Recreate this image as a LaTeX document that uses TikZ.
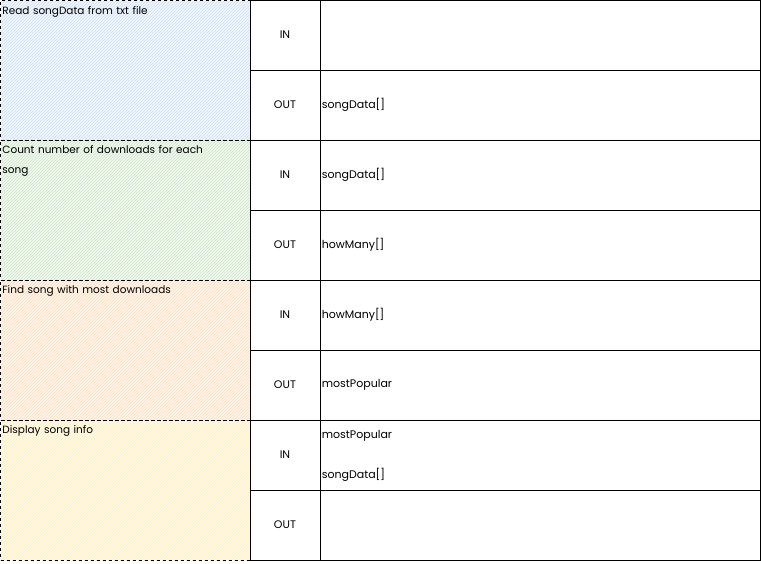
\documentclass[tikz,border=0pt]{standalone}
\usepackage{fontspec}
\setmainfont{Poppins}
\usetikzlibrary{patterns}
\definecolor{hblue}{HTML}{B9D3F5}
\definecolor{hgreen}{HTML}{B7DDB5}
\definecolor{horange}{HTML}{FFCFA0}
\definecolor{hyellow}{HTML}{FFE699}
\tikzset{
  task/.style={draw,dashed,line width=0.5pt,minimum width=250pt,minimum height=140pt,inner sep=0pt},
  io/.style={draw,line width=0.8pt,minimum width=70pt,minimum height=70pt,font=\fontsize{11}{13}\selectfont},
  val/.style={draw,line width=0.8pt,minimum width=440pt,minimum height=70pt},
  lbl/.style={font=\fontsize{11}{13}\selectfont,anchor=west,inner sep=2pt},
  ttl/.style={font=\fontsize{10.5}{20}\selectfont,anchor=north west,align=left,inner sep=2pt,yshift=-4pt,text width=220pt}
}
\begin{document}
\begin{tikzpicture}[x=1pt,y=-1pt]
\useasboundingbox (0,0) rectangle (761,564);
% left column
\fill[hblue!20] (1,1) rectangle (250,140);
\fill[pattern=north east lines,pattern color=hblue!70] (1,1) rectangle (250,140);
\fill[hgreen!20] (1,140) rectangle (250,280);
\fill[pattern=north east lines,pattern color=hgreen!70] (1,140) rectangle (250,280);
\fill[horange!20] (1,280) rectangle (250,420);
\fill[pattern=north east lines,pattern color=horange!70] (1,280) rectangle (250,420);
\fill[hyellow!20] (1,420) rectangle (250,560);
\fill[pattern=north east lines,pattern color=hyellow!70] (1,420) rectangle (250,560);
\node[task] (t1) at (125.5,70.5) {};
\node[task] (t2) at (125.5,210) {};
\node[task] (t3) at (125.5,350) {};
\node[task] (t4) at (125.5,490) {};
\node[ttl] at (t1.north west) {Read songData from txt file};
\node[ttl] at (t2.north west) {Count number of downloads for each song};
\node[ttl] at (t3.north west) {Find song with most downloads};
\node[ttl] at (t4.north west) {Display song info};
% middle column
\node[io] (in1) at (285,35) {IN};
\node[io] (out1) at (285,105) {OUT};
\node[io] (in2) at (285,175) {IN};
\node[io] (out2) at (285,245) {OUT};
\node[io] (in3) at (285,315) {IN};
\node[io] (out3) at (285,385) {OUT};
\node[io] (in4) at (285,455) {IN};
\node[io] (out4) at (285,525) {OUT};
% right column
\node[val] (vin1) at (540,35) {};
\node[val] (vout1) at (540,105) {};
\node[val] (vin2) at (540,175) {};
\node[val] (vout2) at (540,245) {};
\node[val] (vin3) at (540,315) {};
\node[val] (vout3) at (540,385) {};
\node[val] (vin4) at (540,455) {};
\node[val] (vout4) at (540,525) {};
\node[lbl] at (vout1.west) {songData[]};
\node[lbl] at (vin2.west) {songData[]};
\node[lbl] at (vout2.west) {howMany[]};
\node[lbl] at (vin3.west) {howMany[]};
\node[lbl] at (vout3.west) {mostPopular};
\node[lbl] at ([yshift=19]vin4.west) {mostPopular};
\node[lbl] at ([yshift=-20]vin4.west) {songData[]};
\end{tikzpicture}
\end{document}
